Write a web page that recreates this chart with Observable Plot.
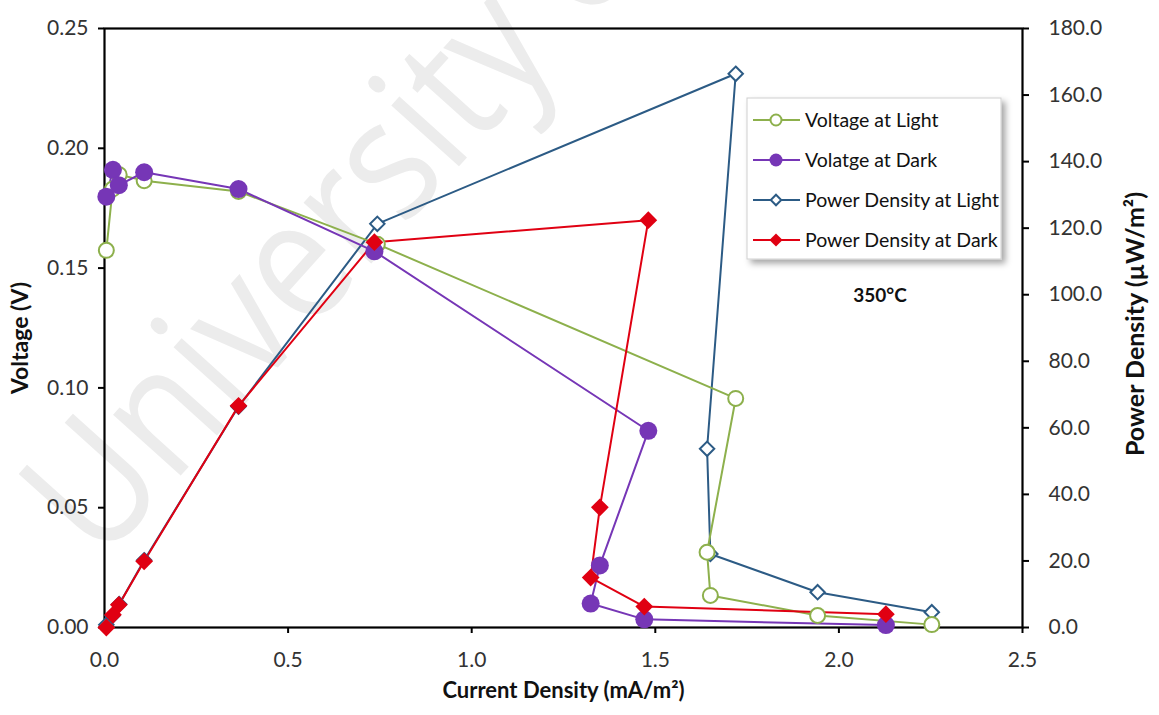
<!DOCTYPE html>
<html>
<head>
<meta charset="utf-8">
<script src="https://cdn.jsdelivr.net/npm/d3@7"></script>
<script src="https://cdn.jsdelivr.net/npm/@observablehq/plot@0.6"></script>
<style>
  html, body { margin: 0; padding: 0; background: #fff; }
  #chart { width: 1159px; height: 715px; }
</style>
</head>
<body>
<div id="chart"></div>
<script>
// Current density (mA/m²) for the light and dark runs
const currentLight = [0.005, 0.022, 0.040, 0.108, 0.365, 0.743, 1.719, 1.641, 1.650, 1.942, 2.253];
const currentDark  = [0.005, 0.023, 0.039, 0.108, 0.365, 0.735, 1.481, 1.349, 1.324, 1.470, 2.128];

// Cell voltage (V), left axis
const voltageLight = [0.1574, 0.183, 0.189, 0.1865, 0.182, 0.160, 0.0956, 0.0314, 0.0134, 0.0050, 0.0012];
const voltageDark  = [0.1798, 0.191, 0.1846, 0.190, 0.183, 0.157, 0.0821, 0.0259, 0.0100, 0.0034, 0.0010];

// Power density (µW/m²), right axis
const powerLight = [0.8, 3.6, 7.0, 20.2, 66.4, 121.3, 166.4, 53.7, 22.1, 10.6, 4.6];
const powerDark  = [0.0, 3.8, 6.8, 19.9, 66.6, 115.8, 122.4, 36.1, 15.0, 6.3, 4.0];

// Axis ticks
const voltageTicks = [0, 0.05, 0.10, 0.15, 0.20, 0.25];
const powerTicks   = [0, 20, 40, 60, 80, 100, 120, 140, 160, 180];
const currentTicks = [0, 0.5, 1.0, 1.5, 2.0, 2.5];

const seriesNames = ["Voltage at Light", "Volatge at Dark", "Power Density at Light", "Power Density at Dark"];
const seriesColors = ["#8db04c", "#7636b6", "#2c5b85", "#e00012"];

const V_MAX = 0.25, P_MAX = 180;
// the power axis shares the voltage scale: 180 µW/m² sits at 0.25 V
const powerToV = p => p * V_MAX / P_MAX;

const rows = (xs, ys, map = d => d) => xs.map((x, i) => ({x, y: map(ys[i])}));
const vLight = rows(currentLight, voltageLight);
const vDark  = rows(currentDark, voltageDark);
const pLight = rows(currentLight, powerLight, powerToV);
const pDark  = rows(currentDark, powerDark, powerToV);

const font = "Lato, 'Open Sans', sans-serif";

const plot = Plot.plot({
  width: 1159,
  height: 715,
  marginLeft: 104,
  marginRight: 137,
  marginTop: 28,
  marginBottom: 88,
  style: {fontFamily: font, fontSize: "21px", background: "white", color: "#333"},
  x: {domain: [0, 2.5]},
  y: {domain: [0, V_MAX]},
  marks: [
    Plot.axisX({ticks: currentTicks, tickFormat: d3.format(".1f"), tickSize: 6, tickPadding: 19, label: null, stroke: "black", strokeWidth: 2}),
    Plot.axisY({ticks: voltageTicks, tickFormat: d3.format(".2f"), tickSize: 6, tickPadding: 10, label: null, stroke: "black", strokeWidth: 2}),
    Plot.axisY(powerTicks.map(powerToV), {anchor: "right", tickFormat: v => (v * P_MAX / V_MAX).toFixed(1), tickSize: 6, tickPadding: 20, label: null, stroke: "black", strokeWidth: 2}),
    Plot.frame({stroke: "black", strokeWidth: 2.2}),

    Plot.text(["Current Density (mA/m²)"], {frameAnchor: "bottom", textAnchor: "middle", dy: 70, fontWeight: "bold", fontSize: 22, fill: "#111"}),
    Plot.text(["Voltage (V)"], {frameAnchor: "left", textAnchor: "middle", rotate: -90, dx: -84, dy: 10, fontWeight: "bold", fontSize: 23, fill: "#111"}),
    Plot.text(["Power Density (µW/m²)"], {frameAnchor: "right", textAnchor: "middle", rotate: -90, dx: 113, dy: -4, fontWeight: "bold", fontSize: 25, fill: "#111"}),

    Plot.line(pLight, {x: "x", y: "y", stroke: seriesColors[2], strokeWidth: 2}),
    Plot.line(vLight, {x: "x", y: "y", stroke: seriesColors[0], strokeWidth: 2}),
    Plot.line(vDark,  {x: "x", y: "y", stroke: seriesColors[1], strokeWidth: 2}),
    Plot.line(pDark,  {x: "x", y: "y", stroke: seriesColors[3], strokeWidth: 2}),

    Plot.dot(pLight, {x: "x", y: "y", symbol: "diamond2", r: 6.5, stroke: seriesColors[2], strokeWidth: 2, fill: "white"}),
    Plot.dot(vLight, {x: "x", y: "y", r: 7.5, stroke: seriesColors[0], strokeWidth: 2, fill: "white"}),
    Plot.dot(vDark,  {x: "x", y: "y", r: 9, fill: seriesColors[1]}),
    Plot.dot(pDark,  {x: "x", y: "y", symbol: "diamond2", r: 8, fill: seriesColors[3]})
  ]
});

document.getElementById("chart").append(plot);

const svg = d3.select(plot);

// faint diagonal watermark behind the chart
svg.insert("text", ":first-child")
  .attr("transform", "translate(100,565) rotate(-48) scale(0.87,1)")
  .attr("text-anchor", "start")
  .attr("font-family", "'Open Sans', sans-serif")
  .attr("font-size", 170)
  .attr("fill", "#ececec")
  .text("University of Malaya");

// legend box with soft shadow
const defs = svg.append("defs");
const shadow = defs.append("filter").attr("id", "legend-shadow").attr("x", "-10%").attr("y", "-10%").attr("width", "130%").attr("height", "130%");
shadow.append("feDropShadow").attr("dx", 4).attr("dy", 4).attr("stdDeviation", 3).attr("flood-color", "#000").attr("flood-opacity", 0.35);

const legend = svg.append("g").attr("font-family", font).attr("text-anchor", "start");
legend.append("rect")
  .attr("x", 747).attr("y", 98).attr("width", 254).attr("height", 161)
  .attr("fill", "white").attr("stroke", "#d0d0d0").attr("stroke-width", 1)
  .attr("filter", "url(#legend-shadow)");

const rowY = [120, 160, 200, 240];
seriesNames.forEach((name, i) => {
  const y = rowY[i], c = seriesColors[i];
  const g = legend.append("g");
  g.append("line").attr("x1", 753).attr("x2", 800).attr("y1", y).attr("y2", y).attr("stroke", c).attr("stroke-width", 2);
  if (i === 0) g.append("circle").attr("cx", 776).attr("cy", y).attr("r", 5.5).attr("fill", "white").attr("stroke", c).attr("stroke-width", 2);
  if (i === 1) g.append("circle").attr("cx", 776).attr("cy", y).attr("r", 6.5).attr("fill", c);
  if (i === 2) g.append("path").attr("d", d3.symbol(d3.symbolDiamond2, 70)()).attr("transform", `translate(776,${y})`).attr("fill", "white").attr("stroke", c).attr("stroke-width", 2);
  if (i === 3) g.append("path").attr("d", d3.symbol(d3.symbolDiamond2, 110)()).attr("transform", `translate(776,${y})`).attr("fill", c);
  g.append("text").attr("x", 805).attr("y", y).attr("dy", "0.35em").attr("font-size", 19.5).attr("fill", "#111").text(name);
});

// temperature annotation
svg.append("text")
  .attr("x", 880).attr("y", 295).attr("dy", "0.35em")
  .attr("text-anchor", "middle")
  .attr("font-family", font).attr("font-weight", "bold").attr("font-size", 19).attr("fill", "#111")
  .text("350°C");
</script>
</body>
</html>
